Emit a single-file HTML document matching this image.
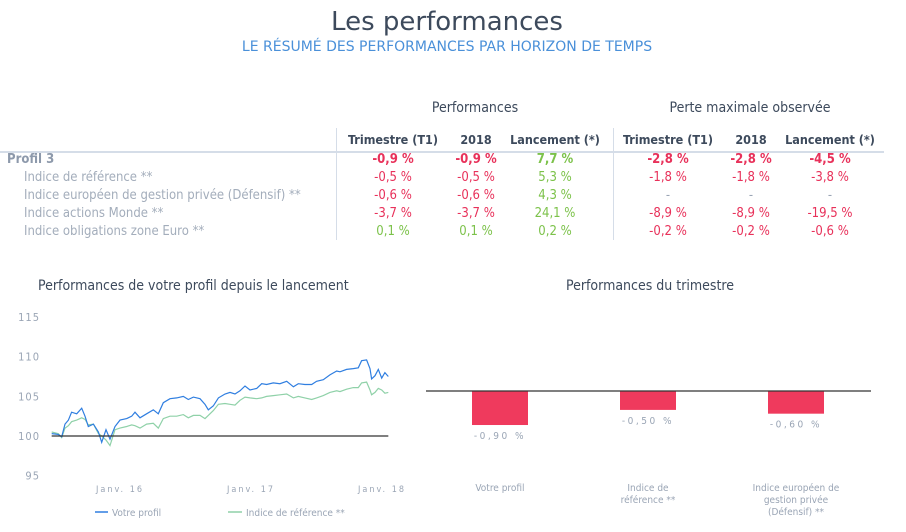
<!DOCTYPE html>
<html><head><meta charset="utf-8"><style>
body{margin:0;width:906px;height:532px;background:#fff;font-family:"DejaVu Sans Condensed","DejaVu Sans","Liberation Sans",sans-serif;position:relative;overflow:hidden}
.a{position:absolute;white-space:nowrap}
.c{transform:translateX(-50%)}
.r{color:#e8315a}.g{color:#7cc24a}.gr{color:#9aa5b5}
.h{font-weight:bold;color:#3d4a5c;font-size:12.5px;top:132px}
.v{font-size:13px}
.b{font-weight:bold}
</style></head><body>
<div class="a c" style="left:447px;top:7px;font-size:26px;color:#3d4a5c;font-family:'DejaVu Sans',sans-serif">Les performances</div>
<div class="a c" style="left:447px;top:39px;font-size:14px;color:#4a90d9;font-family:'DejaVu Sans',sans-serif">LE RÉSUMÉ DES PERFORMANCES PAR HORIZON DE TEMPS</div>
<div class="a c" style="left:475px;top:100px;font-size:14px;color:#3d4a5c">Performances</div>
<div class="a c" style="left:750px;top:100px;font-size:14px;color:#3d4a5c">Perte maximale observée</div>
<div class="a" style="left:0;top:151px;width:884px;height:2px;background:#d5dde8"></div>
<div class="a" style="left:336px;top:128px;width:1px;height:112px;background:#d5dde8"></div>
<div class="a" style="left:613px;top:128px;width:1px;height:112px;background:#d5dde8"></div>
<div id="tbl"></div>
<svg class="a" style="left:0;top:0" width="906" height="532" id="svg"></svg>
<script>
const colHeaders=["Trimestre (T1)","2018","Lancement (*)","Trimestre (T1)","2018","Lancement (*)"];
const rowLabels=["Profil 3","Indice de référence **","Indice européen de gestion privée (Défensif) **","Indice actions Monde **","Indice obligations zone Euro **"];
const tableValues=[
["-0,9 %","-0,9 %","7,7 %","-2,8 %","-2,8 %","-4,5 %"],
["-0,5 %","-0,5 %","5,3 %","-1,8 %","-1,8 %","-3,8 %"],
["-0,6 %","-0,6 %","4,3 %","-","-","-"],
["-3,7 %","-3,7 %","24,1 %","-8,9 %","-8,9 %","-19,5 %"],
["0,1 %","0,1 %","0,2 %","-0,2 %","-0,2 %","-0,6 %"]];
const months=[5.74,6.35,6.66,6.96,7.27,7.57,8.03,8.49,8.79,9.10,9.56,10.02,10.32,10.72,11.08,11.54,12,12.61,13.07,13.37,13.83,14.44,15.05,15.51,15.97,16.58,17.19,17.80,18.26,18.72,19.33,19.79,20.09,20.55,21.01,21.62,22.08,22.53,22.99,23.45,23.91,24.52,24.98,25.43,26.04,26.65,27.27,27.88,28.33,28.94,29.56,30.01,30.62,31.23,31.85,32.15,32.76,33.37,33.83,34.13,34.59,34.90,35.05,35.36,35.66,35.97,36.27,36.58];
const profil=[100.3,100.2,99.9,101.5,102,103,102.8,103.5,102.5,101.2,101.5,100.5,99.2,100.8,99.6,101.2,102,102.2,102.5,103,102.3,102.8,103.3,102.8,104.2,104.7,104.8,105,104.6,104.9,104.7,104,103.3,103.8,104.8,105.3,105.5,105.3,105.7,106.3,105.8,106,106.6,106.5,106.7,106.6,106.9,106.2,106.6,106.5,106.5,106.9,107.1,107.7,108.2,108.1,108.4,108.5,108.6,109.5,109.6,108.5,107.2,107.6,108.4,107.3,108,107.5];
const reference=[100.5,100.3,99.8,101,101.3,101.8,102,102.3,102.1,101.4,101.5,100.3,100,99.5,98.8,100.8,101,101.2,101.4,101.3,101,101.5,101.6,101,102.2,102.5,102.5,102.7,102.3,102.6,102.6,102.2,102.6,103.2,104,104.1,104,103.9,104.5,104.9,104.8,104.7,104.8,105,105.1,105.2,105.3,104.8,105,104.8,104.6,104.8,105.1,105.5,105.7,105.6,105.9,106.1,106.1,106.7,106.8,105.8,105.2,105.5,106,105.8,105.4,105.5];
const yTicks=[95,100,105,110,115];
const xTickMonths=[12,24,36];
const xTickLabels=["Janv. 16","Janv. 17","Janv. 18"];
const barCats=[["Votre profil"],["Indice de","référence **"],["Indice européen de","gestion privée","(Défensif) **"]];
const barValues=[-0.9,-0.5,-0.6];
const barLabels=["-0,90 %","-0,50 %","-0,60 %"];

const tbl=document.getElementById('tbl');
const colX=[393,476,555,668,751,830];
function div(cls,txt,l,t,name){const d=document.createElement('div');d.className='a '+cls;d.textContent=txt;d.style.left=l+'px';d.style.top=t+'px';


tbl.appendChild(d);return d;}
colHeaders.forEach((h,i)=>div('c h',h,colX[i],132,'col-header'));
rowLabels.forEach((l,r)=>{const top=152+r*18;
const d=div('v '+(r==0?'b':''),l,r==0?7:24,top,'row-label');d.style.color=r==0?'#8d99ab':'#a3adbb';
tableValues[r].forEach((v,c)=>{let cl=v=='-'?'gr':(v[0]=='-'?'r':'g');div('c v '+cl+(r==0?' b':''),v,colX[c],top,'table-cell');});});

const NS='http://www.w3.org/2000/svg',svg=document.getElementById('svg');
function el(tag,attrs,name,txt){const e=document.createElementNS(NS,tag);for(const k in attrs)e.setAttribute(k,attrs[k]);


if(txt!==undefined)e.textContent=txt;svg.appendChild(e);return e;}
const F='DejaVu Sans Condensed, DejaVu Sans, sans-serif';
el('text',{x:38,y:290,'font-size':14,fill:'#3d4a5c','font-family':F},'line-chart-title','Performances de votre profil depuis le lancement');
el('text',{x:650,y:290,'font-size':14,fill:'#3d4a5c','font-family':F,'text-anchor':'middle'},'bar-chart-title','Performances du trimestre');
const xs=m=>120+(m-12)*131/12, ys=v=>436-(v-100)*7.93;
yTicks.forEach(t=>el('text',{x:40,y:ys(t)+4,'font-size':11,fill:'#9aa5b5','text-anchor':'end','font-family':F,'letter-spacing':'1'},'y-tick-label',t));
xTickMonths.forEach((m,i)=>el('text',{x:xs(m),y:492,'font-size':9,fill:'#9aa5b5','text-anchor':'middle','font-family':F,'letter-spacing':'2'},'x-tick-label',xTickLabels[i]));
function line(arr,col,name){el('polyline',{points:arr.map((v,i)=>xs(months[i]).toFixed(1)+','+ys(v).toFixed(1)).join(' '),fill:'none',stroke:col,'stroke-width':1.2},name);}
line(reference,'#8fd1a8','reference-line');
line(profil,'#2f7ee0','profil-line');
el('line',{x1:xs(months[0]),x2:xs(months[months.length-1]),y1:ys(100),y2:ys(100),stroke:'#333','stroke-width':1.2},'baseline-100');
el('line',{x1:95,x2:108,y1:512,y2:512,stroke:'#2f7ee0','stroke-width':1.5},'legend-profil-swatch');
el('text',{x:112,y:516,'font-size':10,fill:'#9aa5b5','font-family':F},'legend-profil','Votre profil');
el('line',{x1:228,x2:242,y1:512,y2:512,stroke:'#8fd1a8','stroke-width':1.5},'legend-reference-swatch');
el('text',{x:246,y:516,'font-size':10,fill:'#9aa5b5','font-family':F},'legend-reference','Indice de référence **');
const bx=i=>500+i*148, by=v=>391-v*37.8;
barValues.forEach((v,i)=>{el('rect',{x:bx(i)-28,y:391,width:56,height:by(v)-391,fill:'#ef3a5d'},'bar-'+i);
el('text',{x:bx(i),y:by(v)+14,'font-size':10,fill:'#9aa5b5','text-anchor':'middle','font-family':F,'letter-spacing':'2.5'},'bar-value-label',barLabels[i]);
barCats[i].forEach((s,j)=>el('text',{x:bx(i),y:491+j*12,'font-size':10,fill:'#9aa5b5','text-anchor':'middle','font-family':F},'bar-category-label',s));});
el('line',{x1:426,x2:871,y1:391,y2:391,stroke:'#333','stroke-width':1.2},'bar-baseline');
</script>
</body></html>
